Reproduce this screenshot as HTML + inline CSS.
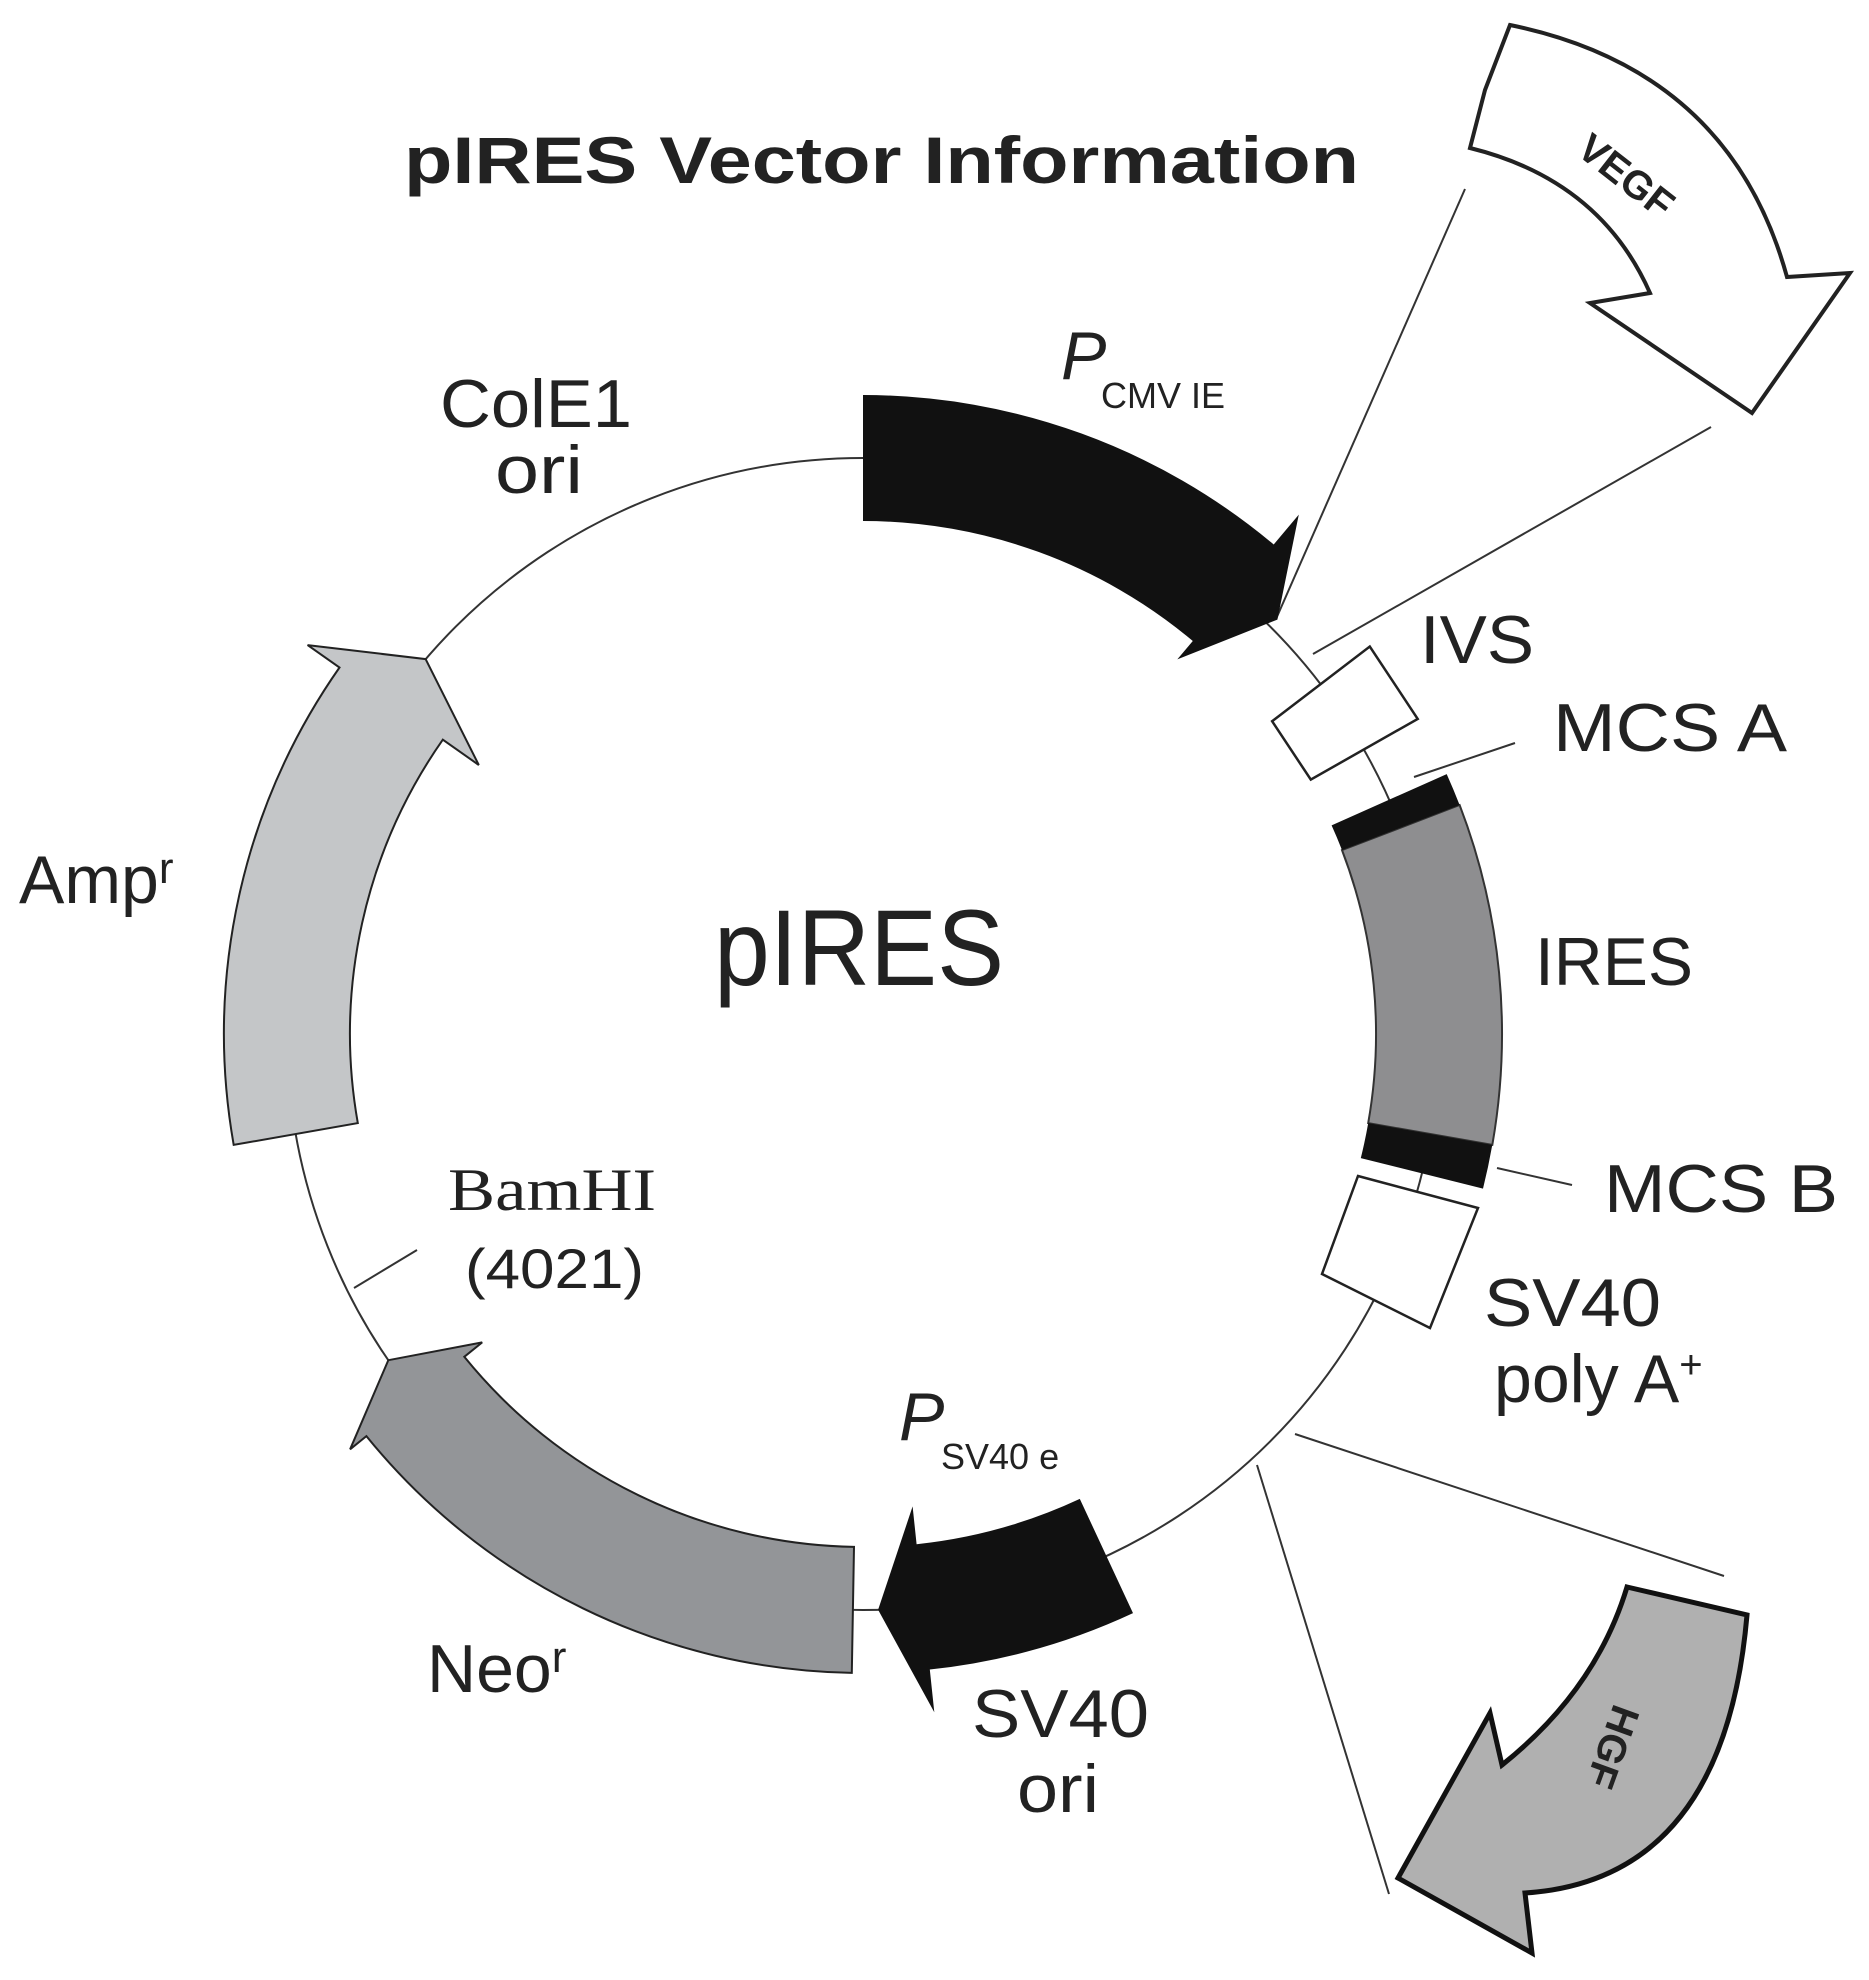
<!DOCTYPE html>
<html><head><meta charset="utf-8"><style>html,body{margin:0;padding:0;background:#fff}svg{display:block}</style></head><body>
<svg width="1869" height="1980" viewBox="0 0 1869 1980" xmlns="http://www.w3.org/2000/svg" font-family="Liberation Sans, sans-serif" fill="#222">
<rect width="1869" height="1980" fill="#fff"/>
<text x="404" y="183" font-size="66" font-weight="bold" textLength="955" lengthAdjust="spacingAndGlyphs">pIRES Vector Information</text>
<circle cx="863" cy="1034" r="576" fill="none" stroke="#333" stroke-width="2"/>
<g stroke="#333" stroke-width="2">
<line x1="1276" y1="619" x2="1465" y2="189"/>
<line x1="1313" y1="654" x2="1711" y2="427"/>
<line x1="1295" y1="1434" x2="1724" y2="1576"/>
<line x1="1257" y1="1465" x2="1389" y2="1894"/>
<line x1="1414" y1="777" x2="1515" y2="743"/>
<line x1="1497" y1="1168" x2="1572" y2="1185"/>
<line x1="354" y1="1288" x2="417" y2="1250"/>
</g>
<path d="M863,395 A639,639 0 0 1 1273.7,544.5 L1298.8,514.6 L1277.4,619.6 L1177.3,659.4 L1192.8,641 A513,513 0 0 0 863,521 Z" fill="#111"/>
<polygon points="1272.1,721.2 1369.8,646.5 1417.7,718.9 1310.8,779.6" fill="#fff" stroke="#222" stroke-width="2.5"/>
<path d="M1459.6,805 A639,639 0 0 1 1492.3,1144.9 L1368.2,1123.1 A513,513 0 0 0 1342,850.1 Z" fill="#8e8e90" stroke="#333" stroke-width="2"/>
<path d="M1446.7,774.1 A639,639 0 0 1 1459.6,805 L1342,850.1 A513,513 0 0 0 1331.6,825.4 Z" fill="#111"/>
<path d="M1492.3,1144.9 A639,639 0 0 1 1483,1188.6 L1360.8,1158.1 A513,513 0 0 0 1368.2,1123.1 Z" fill="#111"/>
<polygon points="1358,1176 1478,1208 1430,1328 1322,1274" fill="#fff" stroke="#222" stroke-width="2.5"/>
<path d="M1133,1613.1 A639,639 0 0 1 929.8,1669.5 L934.3,1712.2 L878.1,1609.8 L912.6,1506.4 L916.6,1544.2 A513,513 0 0 0 1079.8,1498.9 Z" fill="#111"/>
<path d="M851.8,1672.9 A639,639 0 0 1 366.4,1436.1 L350.1,1449.3 L388.3,1360.2 L482.2,1342.4 L464.3,1356.8 A513,513 0 0 0 854,1546.9 Z" fill="#939598" stroke="#222" stroke-width="2"/>
<path d="M233.7,1144.9 A639,639 0 0 1 339.5,667.5 L307.6,645.1 L425.6,659.1 L478.8,765 L442.8,739.7 A513,513 0 0 0 357.8,1123.1 Z" fill="#c4c6c8" stroke="#222" stroke-width="2"/>
<path d="M1510,25 Q1730,70 1787,277 L1850,273 L1752,413 L1590,303 L1650,293 Q1600,180 1470,148 L1485,90 Z" fill="#fff" stroke="#222" stroke-width="4" stroke-linejoin="miter"/>
<text x="1627" y="190" font-size="40" font-weight="bold" text-anchor="middle" transform="rotate(38 1627 175)">VEGF</text>
<path d="M1627,1587 L1747,1615 Q1724,1880 1525,1893 L1532,1953 L1398,1878 L1490,1713 L1502,1765 Q1596,1690 1627,1587 Z" fill="#b0b0b0" stroke="#111" stroke-width="5" stroke-linejoin="miter"/>
<text x="1613" y="1761" font-size="40" font-weight="bold" text-anchor="middle" transform="rotate(110 1613 1747)">HGF</text>
<g font-size="68" lengthAdjust="spacingAndGlyphs">
<text x="440" y="427" textLength="192" lengthAdjust="spacingAndGlyphs">ColE1</text>
<text x="495" y="493" textLength="88" lengthAdjust="spacingAndGlyphs">ori</text>
<text x="1420" y="663" textLength="114" lengthAdjust="spacingAndGlyphs">IVS</text>
<text x="1553" y="751" textLength="234" lengthAdjust="spacingAndGlyphs">MCS A</text>
<text x="1535" y="985" textLength="158" lengthAdjust="spacingAndGlyphs">IRES</text>
<text x="1604" y="1212" textLength="234" lengthAdjust="spacingAndGlyphs">MCS B</text>
<text x="1484" y="1326" textLength="177" lengthAdjust="spacingAndGlyphs">SV40</text>
<text x="1494" y="1402">poly A<tspan font-size="40" dy="-24">+</tspan></text>
<text x="972" y="1737" textLength="177" lengthAdjust="spacingAndGlyphs">SV40</text>
<text x="1017" y="1812" textLength="82" lengthAdjust="spacingAndGlyphs">ori</text>
<text x="427" y="1692">Neo<tspan font-size="44" dy="-20">r</tspan></text>
<text x="19" y="903">Amp<tspan font-size="44" dy="-20">r</tspan></text>
</g>
<text x="1061" y="379" font-size="68" font-style="italic">P</text>
<text x="1101" y="408" font-size="36">CMV IE</text>
<text x="899" y="1440" font-size="68" font-style="italic">P</text>
<text x="941" y="1469" font-size="36">SV40 e</text>
<text x="448" y="1210" font-size="60" font-family="Liberation Serif, serif" textLength="208" lengthAdjust="spacingAndGlyphs">BamHI</text>
<text x="465" y="1288" font-size="56" textLength="179" lengthAdjust="spacingAndGlyphs">(4021)</text>
<text x="714" y="985" font-size="108" textLength="290" lengthAdjust="spacingAndGlyphs">pIRES</text>
</svg>
</body></html>
